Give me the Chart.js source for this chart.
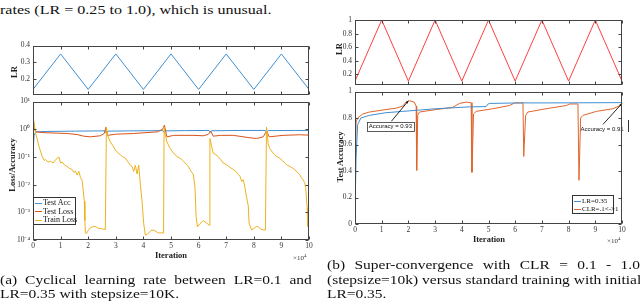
<!DOCTYPE html>
<html>
<head>
<meta charset="utf-8">
<script src="https://cdn.jsdelivr.net/npm/chart.js@4.4.0/dist/chart.umd.min.js"></script>
<style>
body { margin:0; width:640px; height:302px; overflow:hidden; position:relative; background:#fff; font-family:"Liberation Serif", serif; color:#111; }
canvas { position:absolute; }
.t { position:absolute; white-space:nowrap; }
.rot { transform:translate(-50%,-50%) rotate(-90deg); }
.eje { font-size:8.5px; font-weight:bold; color:#222; }
.cap { position:absolute; font-size:13px; line-height:14px; text-align:justify; text-align-last:justify; white-space:nowrap; transform:scaleX(1.19); transform-origin:0 0; }
.ley { position:absolute; border:1px solid #333; background:#fff; font-size:8px; line-height:8.5px; padding:1px 0 0 1px; box-sizing:border-box; }
.ley div { white-space:nowrap; }
.raya { display:inline-block; width:7px; height:1px; vertical-align:middle; margin-right:1px; }
</style>
</head>
<body>

<div class="cap" style="left:0;top:3px;font-size:13.5px;text-align-last:left">rates (LR = 0.25 to 1.0), which is unusual.</div>

<canvas id="lr_izq" width="316" height="64" style="left:0;top:38px"></canvas>
<canvas id="perdida" width="316" height="160" style="left:0;top:94px"></canvas>
<canvas id="lr_der" width="310" height="80" style="left:320px;top:12px"></canvas>
<canvas id="precision" width="310" height="156" style="left:320px;top:84px"></canvas>

<!-- axis titles -->
<div class="t eje rot" style="left:14px;top:72px">LR</div>
<div class="t eje rot" style="left:12px;top:165px">Loss/Accuracy</div>
<div class="t eje" style="left:171px;top:255px;transform:translate(-50%,-50%)">Iteration</div>
<div class="t" style="left:293px;top:253px;font-size:7px;color:#333">×10<sup style="font-size:5px">4</sup></div>

<div class="t eje rot" style="left:339px;top:49px">LR</div>
<div class="t eje rot" style="left:340px;top:157px">Test Accuracy</div>
<div class="t eje" style="left:489px;top:239px;transform:translate(-50%,-50%)">Iteration</div>
<div class="t" style="left:607px;top:236px;font-size:7px;color:#333">×10<sup style="font-size:5px">4</sup></div>
<div class="t" style="left:628px;top:120px;width:1px;height:12px;background:#333"></div>

<!-- legends -->
<div class="ley" style="left:33px;top:197px;width:43px;height:28px">
  <div><span class="raya" style="background:#3f8fd2"></span>Test Acc</div>
  <div><span class="raya" style="background:#d95319"></span>Test Loss</div>
  <div><span class="raya" style="background:#edb120"></span>Train Loss</div>
</div>
<div class="ley" style="left:572px;top:195px;width:42px;height:19px;font-size:7px;line-height:8px">
  <div><span class="raya" style="background:#3f8fd2"></span>LR=0.35</div>
  <div><span class="raya" style="background:#e0652a"></span>CLR=.1&lt;-&gt;1</div>
</div>

<!-- captions (widths divided by the 1.19 horizontal stretch) -->
<div class="cap" style="left:0;top:273px;width:262px">(a) Cyclical learning rate between LR=0.1 and</div>
<div class="cap" style="left:0;top:287px;text-align-last:left">LR=0.35 with stepsize=10K.</div>
<div class="cap" style="left:327px;top:258px;width:263px">(b) Super-convergence with CLR = 0.1 - 1.0</div>
<div class="cap" style="left:327px;top:273px;width:263px">(stepsize=10k) versus standard training with initial</div>
<div class="cap" style="left:327px;top:287px;text-align-last:left">LR=0.35.</div>

<script>
/* tick values shared by the axes */
const x_ticks        = [0, 1, 2, 3, 4, 5, 6, 7, 8, 9, 10];
const lr_izq_ticks   = [0.2, 0.3, 0.4];
const lr_der_ticks   = [0.2, 0.4, 0.6, 0.8, 1];
const perdida_ticks  = [1e-4, 1e-3, 1e-2, 1e-1, 1, 10];
const precision_ticks = [0, 0.2, 0.4, 0.6, 0.8, 1];

/* cyclical learning rate (iteration in units of 1e4) */
const lr_iter = [0, 1, 2, 3, 4, 5, 6, 7, 8, 9, 10];
const lr_izq  = [0.14, 0.35, 0.14, 0.35, 0.14, 0.35, 0.14, 0.35, 0.14, 0.35, 0.14];
const lr_der  = [0.1, 1, 0.1, 1, 0.1, 1, 0.1, 1, 0.1, 1, 0.1];

/* left panel: [iteration, value] */
const test_acc = [[0,0.14],[0.04,0.6],[0.1,0.8],[0.5,0.83],[1.5,0.85],[2.5,0.87],[2.62,0.87],[2.66,0.7],[2.72,0.85],
  [3.5,0.87],[4.7,0.89],[4.76,0.75],[4.82,0.87],[5.5,0.89],[6.38,0.9],[6.42,0.78],[6.48,0.88],[7.5,0.9],
  [8.42,0.9],[8.46,0.78],[8.52,0.89],[9.5,0.9],[10,0.9]];

const test_loss = [[0,3.1],[0.05,1.0],[0.1,0.8],[0.4,0.75],[1.24,0.7],[1.6,0.64],[1.84,0.56],[2.08,0.53],[2.44,0.58],
  [2.58,0.7],[2.65,1.2],[2.7,0.6],[3.0,0.66],[3.65,0.7],[4.5,0.8],[4.7,1.0],[4.76,1.4],[4.85,0.53],[5.1,0.6],
  [5.8,0.6],[6.17,0.58],[6.35,0.65],[6.44,0.85],[6.53,0.56],[6.8,0.6],[7.26,0.6],[7.86,0.49],[8.1,0.46],
  [8.34,0.53],[8.46,0.85],[8.56,0.53],[9.06,0.6],[9.66,0.63],[10,0.61]];

const train_loss = [[0,3.1],[0.04,1.6],[0.1,0.7],[0.22,0.23],[0.34,0.1],[0.4,0.075],[0.46,0.08],[0.55,0.065],
  [0.64,0.07],[0.73,0.06],[0.82,0.08],[0.94,0.1],[1.0,0.06],[1.06,0.065],[1.15,0.05],[1.24,0.045],[1.33,0.038],
  [1.42,0.035],[1.48,0.028],[1.54,0.03],[1.6,0.022],[1.66,0.03],[1.72,0.018],[1.78,0.014],[1.82,0.006],
  [1.86,0.0025],[1.88,0.0005],[1.9,0.00018],[1.94,0.00017],[2.0,0.00022],[2.08,0.00028],[2.17,0.0003],
  [2.26,0.00031],[2.35,0.00027],[2.44,0.00026],[2.53,0.00025],[2.62,0.00024],[2.64,0.00024],[2.66,1.2],
  [2.7,0.6],[2.8,0.35],[2.9,0.25],[2.98,0.18],[3.08,0.14],[3.16,0.12],[3.25,0.1],[3.35,0.09],[3.42,0.07],
  [3.47,0.06],[3.53,0.05],[3.59,0.045],[3.65,0.03],[3.71,0.05],[3.77,0.024],[3.83,0.05],[3.89,0.01],
  [3.95,0.0026],[4.01,0.0004],[4.07,0.00015],[4.13,0.00016],[4.19,0.00018],[4.28,0.00022],[4.37,0.00023],
  [4.46,0.0002],[4.55,0.00018],[4.64,0.00018],[4.73,0.00018],[4.75,1.2],[4.8,0.6],[4.85,0.35],[4.97,0.2],
  [5.06,0.15],[5.15,0.118],[5.24,0.1],[5.33,0.09],[5.42,0.075],[5.51,0.06],[5.6,0.05],[5.69,0.035],
  [5.75,0.028],[5.81,0.023],[5.87,0.0078],[5.91,0.0007],[5.96,0.0003],[6.05,0.00039],[6.17,0.0005],
  [6.29,0.00041],[6.39,0.00034],[6.41,0.46],[6.47,0.25],[6.53,0.136],[6.62,0.12],[6.71,0.103],[6.8,0.08],
  [6.89,0.06],[6.98,0.055],[7.08,0.046],[7.17,0.04],[7.26,0.035],[7.35,0.03],[7.44,0.023],[7.5,0.02],
  [7.56,0.013],[7.62,0.015],[7.68,0.0078],[7.74,0.0034],[7.8,0.0017],[7.83,0.0004],[7.92,0.00023],
  [8.04,0.00028],[8.1,0.00031],[8.16,0.0003],[8.25,0.00025],[8.34,0.00023],[8.42,0.00023],[8.46,1.2],
  [8.52,0.3],[8.58,0.2],[8.67,0.15],[8.76,0.118],[8.85,0.1],[8.94,0.09],[9.03,0.075],[9.12,0.06],[9.21,0.05],
  [9.3,0.046],[9.39,0.04],[9.48,0.035],[9.57,0.028],[9.66,0.023],[9.72,0.018],[9.78,0.015],[9.84,0.012],
  [9.88,0.0078],[9.93,0.0015],[9.96,0.0003],[10,0.00028]];

/* right panel: test accuracy */
const acc_lr = [[0,0.08],[0.04,0.5],[0.1,0.75],[0.22,0.8],[0.54,0.82],[1.16,0.84],[1.79,0.85],[2.41,0.86],
  [3.04,0.87],[3.66,0.877],[4.29,0.884],[4.91,0.886],[4.98,0.905],[5.04,0.91],[6.16,0.914],[7.41,0.914],[10,0.916]];

const acc_clr = [[0,0.18],[0.04,0.77],[0.1,0.8],[0.29,0.83],[0.54,0.845],[1.16,0.864],[1.54,0.874],[1.79,0.89],
  [1.91,0.92],[2.04,0.93],[2.22,0.92],[2.29,0.89],[2.31,0.405],[2.35,0.82],[2.41,0.845],[3.04,0.864],[3.66,0.88],
  [3.91,0.91],[4.16,0.92],[4.35,0.915],[4.38,0.39],[4.44,0.83],[4.54,0.85],[5.16,0.87],[5.79,0.894],
  [5.98,0.914],[6.29,0.914],[6.32,0.51],[6.39,0.82],[6.47,0.845],[7.16,0.87],[7.91,0.894],[8.04,0.906],
  [8.35,0.906],[8.39,0.33],[8.45,0.8],[8.54,0.82],[9.04,0.85],[9.66,0.87],[10,0.9]];

/* annotated points */
const nota_x     = [2, 10];
const nota_y     = [0.93, 0.91];
const nota_texto = ['Accuracy = 0.93', 'Accuracy = 0.91'];

Chart.defaults.font.family = '"Liberation Serif", serif';
Chart.defaults.color = '#333';

const pares = arr => arr.map(([x, y]) => ({ x, y }));
const superindice = n => String(n).split('').map(c => '⁰¹²³⁴⁵⁶⁷⁸⁹'['0123456789'.indexOf(c)] ?? '⁻').join('');

/* draws a matlab style box with inward tick marks */
const caja_matlab = {
    id: 'caja_matlab',
    afterDraw(chart, args, opts) {
        const { ctx, chartArea: a, scales } = chart;
        const l = Math.round(a.left) + 0.5, r = Math.round(a.right) - 0.5;
        const t = Math.round(a.top) + 0.5,  b = Math.round(a.bottom) - 0.5;
        ctx.save();
        ctx.strokeStyle = '#444';
        ctx.lineWidth = 1;
        ctx.strokeRect(l, t, r - l, b - t);
        ctx.beginPath();
        opts.xt.forEach(v => {
            const px = Math.round(scales.x.getPixelForValue(v)) + 0.5;
            ctx.moveTo(px, b); ctx.lineTo(px, b - 3);
            ctx.moveTo(px, t); ctx.lineTo(px, t + 3);
        });
        opts.yt.forEach(v => {
            const py = Math.round(scales.y.getPixelForValue(v)) + 0.5;
            ctx.moveTo(l, py); ctx.lineTo(l + 3, py);
            ctx.moveTo(r, py); ctx.lineTo(r - 3, py);
        });
        ctx.stroke();
        ctx.restore();
    }
};

/* arrows and labels for the accuracy annotations */
const notas_precision = {
    id: 'notas_precision',
    afterDatasetsDraw(chart, args, opts) {
        const { ctx, scales: { x, y } } = chart;
        nota_x.forEach((vx, i) => {
            const o = opts.offsets[i];
            const px = x.getPixelForValue(vx), py = y.getPixelForValue(nota_y[i]);
            const sx = px + o.dx, sy = py + o.dy;
            ctx.save();
            ctx.strokeStyle = '#111'; ctx.fillStyle = '#111'; ctx.lineWidth = 0.9;
            ctx.beginPath(); ctx.moveTo(sx, sy); ctx.lineTo(px, py); ctx.stroke();
            const ang = Math.atan2(py - sy, px - sx);
            ctx.beginPath();
            ctx.moveTo(px, py);
            ctx.lineTo(px - 3 * Math.cos(ang - 0.4), py - 3 * Math.sin(ang - 0.4));
            ctx.lineTo(px - 3 * Math.cos(ang + 0.4), py - 3 * Math.sin(ang + 0.4));
            ctx.fill();
            ctx.font = '6px "Liberation Sans", sans-serif';
            ctx.textAlign = 'center'; ctx.textBaseline = 'middle';
            const tx = sx + o.tx, ty = sy + o.ty;
            ctx.fillText(nota_texto[i], tx, ty);
            if (o.caja) {
                const w = ctx.measureText(nota_texto[i]).width + 4;
                ctx.lineWidth = 0.8; ctx.strokeStyle = '#333';
                ctx.strokeRect(Math.round(tx - w / 2) + 0.5, Math.round(ty - 4.5) + 0.5, Math.round(w), 9);
            }
            ctx.restore();
        });
    }
};

function eje_y(ancho, ticks, extra) {
    return Object.assign({
        afterFit: s => { s.width = ancho; },
        afterBuildTicks: s => { s.ticks = ticks.map(v => ({ value: v })); },
        ticks: { padding: 3, font: { size: 7.5 }, autoSkip: false },
        grid: { display: false, drawTicks: false },
        border: { display: false }
    }, extra);
}

function eje_x(alto) {
    return {
        type: 'linear', min: 0, max: 10,
        afterFit: s => { s.height = alto; },
        afterBuildTicks: s => { s.ticks = x_ticks.map(v => ({ value: v })); },
        ticks: { padding: 2, font: { size: 7.5 }, autoSkip: false, maxRotation: 0 },
        grid: { display: false, drawTicks: false },
        border: { display: false }
    };
}

function linea(datos, color) {
    return { data: datos, borderColor: color, borderWidth: 1, pointRadius: 0, tension: 0, fill: false };
}

function opciones(padding, scales, extra_plugins) {
    return {
        responsive: false, animation: false, events: [],
        layout: { padding, autoPadding: false },
        plugins: Object.assign({ legend: { display: false }, tooltip: { enabled: false } }, extra_plugins),
        scales
    };
}

/* top left: LR 0.1 - 0.35 */
new Chart(document.getElementById('lr_izq'), {
    type: 'line',
    data: { datasets: [linea(lr_iter.map((x, i) => ({ x, y: lr_izq[i] })), '#3f8fd2')] },
    options: opciones({ top: 7, right: 7, bottom: 3, left: 0 }, {
        x: { type: 'linear', min: 0, max: 10, display: false },
        y: eje_y(33, lr_izq_ticks, { min: 0.11, max: 0.4 })
    }, { caja_matlab: { xt: x_ticks, yt: lr_izq_ticks } }),
    plugins: [caja_matlab]
});

/* bottom left: loss / accuracy on log axis */
const ticks_log = eje_y(33, perdida_ticks, { type: 'logarithmic', min: 1e-4, max: 10 });
ticks_log.ticks.callback = v => '10' + superindice(Math.round(Math.log10(v)));
new Chart(document.getElementById('perdida'), {
    type: 'line',
    data: { datasets: [
        linea(pares(train_loss), '#edb120'),
        linea(pares(test_loss), '#d95319'),
        linea(pares(test_acc), '#3f8fd2')
    ] },
    options: opciones({ top: 5, right: 7, bottom: 0, left: 0 }, {
        x: eje_x(14),
        y: ticks_log
    }, { caja_matlab: { xt: x_ticks, yt: perdida_ticks } }),
    plugins: [caja_matlab]
});

/* top right: CLR 0.1 - 1 */
const ticks_lr_der = eje_y(35, lr_der_ticks, { min: 0.05, max: 1 });
ticks_lr_der.ticks.callback = v => v === 1 ? '1' : v.toFixed(1);
new Chart(document.getElementById('lr_der'), {
    type: 'line',
    data: { datasets: [linea(lr_iter.map((x, i) => ({ x, y: lr_der[i] })), '#ff4040')] },
    options: opciones({ top: 8, right: 8, bottom: 3, left: 0 }, {
        x: { type: 'linear', min: 0, max: 10, display: false },
        y: ticks_lr_der
    }, { caja_matlab: { xt: x_ticks, yt: lr_der_ticks } }),
    plugins: [caja_matlab]
});

/* bottom right: test accuracy */
const ticks_prec = eje_y(35, precision_ticks, { min: 0, max: 1 });
ticks_prec.ticks.callback = v => (v === 0 || v === 1) ? String(v) : v.toFixed(1);
new Chart(document.getElementById('precision'), {
    type: 'line',
    data: { datasets: [
        linea(pares(acc_lr), '#3f8fd2'),
        linea(pares(acc_clr), '#e0652a')
    ] },
    options: opciones({ top: 5, right: 8, bottom: 0, left: 0 }, {
        x: eje_x(16),
        y: ticks_prec
    }, {
        caja_matlab: { xt: x_ticks, yt: precision_ticks },
        notas_precision: { offsets: [
            { dx: -17, dy: 20.5, tx: -1, ty: 5.5, caja: true },
            { dx: -19, dy: 21, tx: -1, ty: 4.5, caja: false }
        ] }
    }),
    plugins: [caja_matlab, notas_precision]
});
</script>
</body>
</html>
